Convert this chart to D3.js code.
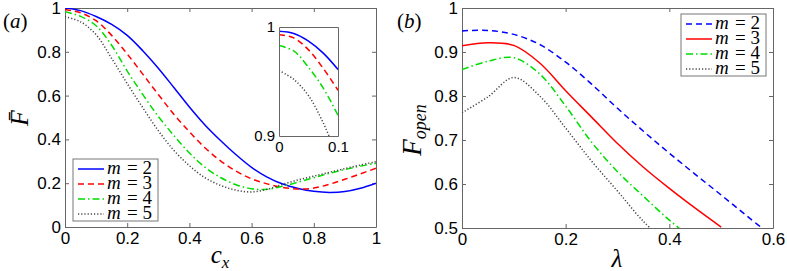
<!DOCTYPE html>
<html>
<head>
<meta charset="utf-8">
<script src="https://cdn.jsdelivr.net/npm/d3@7"></script>
<style>
  body { margin: 0; background: white; }
  .tick text { font-family: "Liberation Sans", Arial, sans-serif; font-size: 17px; fill: #000; }
  .tick line, .domain { stroke: #666; }
  .math { font-family: "Liberation Serif", "Times New Roman", "DejaVu Serif", serif; }
</style>
</head>
<body>
<div id="container"></div>
<script>
let w = 787;
let h = 271;

// panel (a): F bar vs c_x
let cxValues = [0, 0.05, 0.1, 0.15, 0.2, 0.25, 0.3, 0.35, 0.4, 0.45, 0.5, 0.55, 0.6, 0.65, 0.7, 0.75, 0.8, 0.85, 0.9, 0.95, 1];
let fBarM2 = [1.0, 0.988, 0.961, 0.925, 0.875, 0.805, 0.725, 0.637, 0.548, 0.466, 0.395, 0.33, 0.272, 0.228, 0.196, 0.176, 0.163, 0.158, 0.162, 0.177, 0.2];
let fBarM3 = [0.993, 0.978, 0.942, 0.875, 0.79, 0.698, 0.605, 0.515, 0.435, 0.362, 0.302, 0.255, 0.22, 0.197, 0.181, 0.173, 0.178, 0.195, 0.218, 0.243, 0.268];
let fBarM4 = [0.983, 0.962, 0.919, 0.83, 0.712, 0.605, 0.505, 0.418, 0.338, 0.273, 0.226, 0.193, 0.175, 0.172, 0.186, 0.205, 0.225, 0.245, 0.262, 0.278, 0.291];
let fBarM5 = [0.96, 0.937, 0.878, 0.77, 0.655, 0.545, 0.44, 0.35, 0.28, 0.225, 0.19, 0.168, 0.16, 0.172, 0.195, 0.215, 0.232, 0.25, 0.267, 0.283, 0.298];

// inset of panel (a)
let insetCx = [0, 0.025, 0.05, 0.075, 0.1];
let insetM2 = [0.996, 0.994, 0.987, 0.976, 0.961];
let insetM3 = [0.993, 0.99, 0.979, 0.962, 0.942];
let insetM4 = [0.983, 0.978, 0.963, 0.944, 0.919];
let insetM5 = [0.96, 0.952, 0.937, 0.912, 0.88];

// panel (b): F_open vs lambda
let lambdaValues = [0, 0.05, 0.1, 0.15, 0.2, 0.25, 0.3, 0.35, 0.4, 0.45, 0.5, 0.55, 0.6];
let fOpenM2 = [0.948, 0.949, 0.94, 0.917, 0.877, 0.827, 0.772, 0.72, 0.67, 0.622, 0.575, 0.527, 0.48];
let fOpenM3 = [0.914, 0.921, 0.915, 0.875, 0.812, 0.752, 0.692, 0.638, 0.59, 0.545, 0.502];
let fOpenM4 = [0.86, 0.879, 0.887, 0.85, 0.777, 0.695, 0.628, 0.572, 0.518, 0.47];
let fOpenM5 = [0.762, 0.798, 0.842, 0.8, 0.727, 0.652, 0.584, 0.515, 0.46];

let mLabels = ["2", "3", "4", "5"];
let ticksA = [0, 0.2, 0.4, 0.6, 0.8, 1];
let ticksBx = [0, 0.2, 0.4, 0.6];
let ticksBy = [0.5, 0.6, 0.7, 0.8, 0.9, 1];

let solid = null;
let dashed = "6,4";
let dashdot = "7,3,1.5,3";
let dotted = "1.2,2";

let stylesA = [
  {color: "#0000ff", dash: solid},
  {color: "#ff0000", dash: dashed},
  {color: "#00dd00", dash: dashdot},
  {color: "#444444", dash: dotted}
];
let stylesB = [
  {color: "#0000ff", dash: dashed},
  {color: "#ff0000", dash: solid},
  {color: "#00dd00", dash: dashdot},
  {color: "#444444", dash: dotted}
];

let viz = d3.select("#container")
  .append("svg")
    .attr("width", w)
    .attr("height", h)
    .style("background-color", "white");

let fmt = d3.format("");

function drawFrame(x, y, xt, yt, size){
  let g = viz.append("g");
  let x0 = x.range()[0], x1 = x.range()[1];
  let y0 = y.range()[0], y1 = y.range()[1];
  let tl = 4;

  let bottom = d3.axisBottom(x).tickValues(xt).tickSize(-tl).tickSizeOuter(0).tickPadding(5).tickFormat(fmt);
  let top = d3.axisTop(x).tickValues(xt).tickSize(-tl).tickSizeOuter(0).tickFormat("");
  let left = d3.axisLeft(y).tickValues(yt).tickSize(-tl).tickSizeOuter(0).tickPadding(4).tickFormat(fmt);
  let right = d3.axisRight(y).tickValues(yt).tickSize(-tl).tickSizeOuter(0).tickFormat("");

  g.append("g").attr("transform", "translate(0," + y0 + ")").call(bottom);
  g.append("g").attr("transform", "translate(0," + y1 + ")").call(top);
  g.append("g").attr("transform", "translate(" + x0 + ",0)").call(left);
  g.append("g").attr("transform", "translate(" + x1 + ",0)").call(right);
  if(size){
    g.selectAll(".tick text").style("font-size", size + "px");
  }
  return g;
}

function drawLines(x, y, xs, seriesList, styles, clipId){
  let x0 = x.range()[0], x1 = x.range()[1];
  let y0 = y.range()[0], y1 = y.range()[1];
  viz.append("clipPath").attr("id", clipId)
    .append("rect")
      .attr("x", x0).attr("y", y1)
      .attr("width", x1 - x0).attr("height", y0 - y1);

  let line = d3.line()
    .x(function(d){ return x(d[0]); })
    .y(function(d){ return y(d[1]); })
    .curve(d3.curveCatmullRom.alpha(0.5));

  seriesList.forEach(function(vals, i){
    let pts = vals.map(function(v, j){ return [xs[j], v]; });
    viz.append("path")
      .attr("clip-path", "url(#" + clipId + ")")
      .attr("d", line(pts))
      .attr("fill", "none")
      .attr("stroke", styles[i].color)
      .attr("stroke-width", 1.5)
      .attr("stroke-dasharray", styles[i].dash);
  });
}

function drawLegend(x, y, styles){
  let g = viz.append("g").attr("transform", "translate(" + x + "," + y + ")");
  g.append("rect")
    .attr("width", 85).attr("height", 62)
    .attr("fill", "white").attr("stroke", "#777").attr("stroke-width", 1);
  mLabels.forEach(function(m, i){
    let yy = 10 + i * 15;
    g.append("line")
      .attr("x1", 5).attr("x2", 31).attr("y1", yy).attr("y2", yy)
      .attr("stroke", styles[i].color)
      .attr("stroke-width", 1.5)
      .attr("stroke-dasharray", styles[i].dash);
    g.append("text")
      .attr("class", "math")
      .attr("x", 34).attr("y", yy + 5)
      .style("font-size", "19px").style("font-style", "italic")
      .text("m");
    g.append("text")
      .attr("class", "math")
      .attr("x", 54).attr("y", yy + 5)
      .style("font-size", "19px")
      .text("= " + m);
  });
}

// ---- panel (a)
let xA = d3.scaleLinear().domain([0, 1]).range([65, 376]);
let yA = d3.scaleLinear().domain([0, 1]).range([227, 8]);
drawFrame(xA, yA, ticksA, ticksA);
drawLines(xA, yA, cxValues, [fBarM2, fBarM3, fBarM4, fBarM5], stylesA, "clipA");
drawLegend(73, 159, stylesA);

// inset
let xI = d3.scaleLinear().domain([0, 0.1]).range([279, 338]);
let yI = d3.scaleLinear().domain([0.9, 1]).range([136, 27]);
viz.append("rect")
  .attr("x", 279).attr("y", 27).attr("width", 59).attr("height", 109)
  .attr("fill", "white");
drawLines(xI, yI, insetCx, [insetM2, insetM3, insetM4, insetM5], stylesA, "clipI");
let inset = drawFrame(xI, yI, [0, 0.1], [0.9, 1], 15);
inset.selectAll(".tick line").remove();

// ---- panel (b)
let xB = d3.scaleLinear().domain([0, 0.6]).range([462, 773]);
let yB = d3.scaleLinear().domain([0.5, 1]).range([228, 8]);
drawFrame(xB, yB, ticksBx, ticksBy);
drawLines(xB, yB, lambdaValues, [fOpenM2, fOpenM3, fOpenM4, fOpenM5], stylesB, "clipB");
drawLegend(681, 14, stylesB);

// ---- labels
function panelTag(x, y, letter){
  let t = viz.append("text").attr("class", "math").attr("x", x).attr("y", y)
    .style("font-size", "21px");
  t.append("tspan").text("(");
  t.append("tspan").style("font-style", "italic").text(letter);
  t.append("tspan").text(")");
}
panelTag(3, 28, "a");
panelTag(397, 28, "b");

let cx = viz.append("text").attr("class", "math").attr("x", 220).attr("y", 263)
  .attr("text-anchor", "middle")
  .style("font-size", "25px").style("font-style", "italic");
cx.append("tspan").text("c");
cx.append("tspan").attr("dy", 5).style("font-size", "17px").text("x");

viz.append("text").attr("class", "math").attr("x", 617).attr("y", 267)
  .attr("text-anchor", "middle")
  .style("font-size", "25px").style("font-style", "italic")
  .text("λ");

viz.append("text").attr("class", "math")
  .attr("transform", "translate(28,118) rotate(-90)")
  .attr("text-anchor", "middle")
  .style("font-size", "26px").style("font-style", "italic")
  .text("F\u0304");

let fo = viz.append("text").attr("class", "math")
  .attr("transform", "translate(421,130) rotate(-90)")
  .attr("text-anchor", "middle")
  .style("font-size", "27px").style("font-style", "italic");
fo.append("tspan").text("F");
fo.append("tspan").attr("dy", 5).style("font-size", "18px").text("open");
</script>
</body>
</html>
